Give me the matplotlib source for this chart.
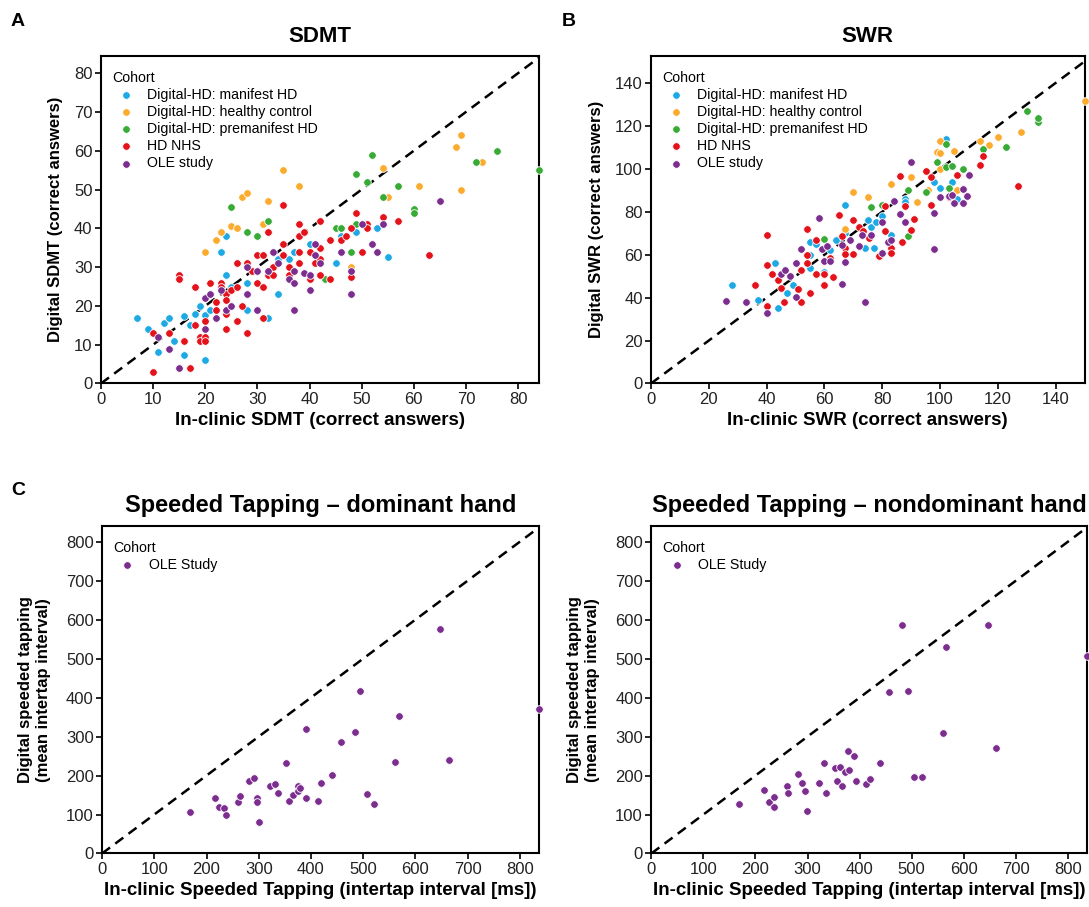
import matplotlib
matplotlib.use('Agg')
import matplotlib.pyplot as plt
import numpy as np

plt.rcParams['font.family'] = ['Liberation Sans', 'DejaVu Sans']

COHORTS = ['Digital-HD: manifest HD', 'Digital-HD: healthy control',
           'Digital-HD: premanifest HD', 'HD NHS', 'OLE study']
COLORS = ['#1ea9e4', '#fbab2d', '#38aa36', '#e3121b', '#7c2e8f']

# --- SDMT (in-clinic, digital) per cohort ---
sdmt_manifest = [(7, 17), (9, 14), (11, 8), (12, 15.5), (13, 17), (14, 11), (16, 17.4), (16, 7.3),
                 (17, 15), (18, 18), (19, 20), (20, 17.6), (20, 6), (21, 19), (23, 34), (24, 38),
                 (24, 28), (25, 25), (28, 26), (28, 19), (32, 17), (34, 23), (34, 32), (36, 32),
                 (37, 34), (40, 36), (45, 31), (46, 38), (49, 39), (53, 40), (55, 32.5)]
sdmt_control = [(20, 34), (22, 37), (23, 39), (25, 40.5), (26, 40), (27, 48), (28, 49), (31, 41),
                (32, 47), (35, 55), (38, 51), (48, 30), (54, 55.5), (55, 48), (61, 51), (68, 61),
                (69, 64), (69, 50), (73, 57)]
sdmt_premanifest = [(25, 45.5), (28, 39), (30, 38), (32, 42), (43, 27), (45, 40), (46, 40),
                    (48, 34), (49, 54), (49, 41), (51, 52), (52, 59), (54, 48), (57, 51),
                    (60, 45), (60, 44), (72, 57), (76, 60), (84, 55)]
sdmt_nhs = [(10, 13), (10, 3), (13, 13), (15, 28), (15, 27), (16, 11), (17, 4), (18, 25), (18, 15),
            (19, 12), (19, 11), (20, 12), (20, 11), (20, 16), (21, 26), (22, 19), (22, 21), (23, 26),
            (23, 25), (24, 23), (24, 21.5), (24, 18), (24, 14), (25, 24), (26, 25), (26, 16), (26, 31),
            (27, 20), (28, 31), (28, 13), (29, 29), (30, 33), (30, 26), (31, 33), (31, 25), (31, 17),
            (32, 39), (32, 28), (33, 28), (33, 30), (35, 46), (35, 36), (35, 33), (36, 30), (36, 28),
            (38, 34), (38, 31), (38, 41), (38, 38), (39, 39), (40, 34), (40, 27), (41, 31), (42, 35),
            (42, 32), (42, 42), (42, 28), (44, 37), (44, 27), (46, 37), (47, 38), (48, 40), (48, 27.5),
            (49, 44), (50, 34), (51, 41), (51, 40), (54, 43), (57, 42), (63, 33)]
sdmt_ole = [(11, 12), (13, 9), (15, 4), (20, 22), (20, 14), (21, 23), (22, 17), (23, 24), (24, 19),
            (25, 20), (28, 23), (28, 30), (30, 29), (30, 19), (32, 29), (33, 34), (34, 31), (36, 27),
            (37, 26), (37, 29), (37, 19), (39, 28.5), (40, 28), (40, 24), (41, 36), (41, 33), (42, 31),
            (46, 34), (48, 29), (48, 23), (50, 41), (52, 36), (53, 34), (54, 41), (65, 47)]

# --- SWR (in-clinic, digital) per cohort ---
swr_manifest = [(28, 46), (37, 39), (43, 56), (44, 35), (47, 42), (49, 46), (55, 66), (55, 60),
                (57, 65), (55, 54), (60, 52), (62, 62), (64, 67), (67, 83), (67, 70), (74, 63),
                (75, 76), (76, 73), (77, 63), (78, 75), (80, 78), (83, 69), (88, 86), (98, 94),
                (100, 91), (102, 114), (104, 94), (106, 86), (88, 84.5)]
swr_control = [(67, 72), (70, 89), (75, 87), (83, 93), (90, 96), (92, 84.5), (96, 90), (99, 108),
               (100, 113), (100, 107.5), (100, 100), (105, 108.5), (106, 90), (114, 113), (117, 111),
               (120, 115), (128, 117), (150, 131.5)]
swr_premanifest = [(60, 67.5), (76, 82), (80, 83), (89, 90), (89, 68.5), (95, 89), (99, 103),
                   (102, 101), (102, 111.5), (103, 91), (104, 101.5), (108, 100), (115, 109),
                   (123, 110), (130, 127), (134, 122), (134, 123.5)]
swr_nhs = [(36, 46), (40, 69), (40, 55), (40, 36), (42, 51), (44, 48), (45, 44.5), (46, 38), (51, 44),
           (52, 53), (52, 38), (54, 72), (54, 60), (54, 56), (55, 42), (57, 51), (57, 67), (60, 51),
           (60, 46), (62, 58.5), (63, 49.5), (65, 78.5), (66, 68.5), (67, 63), (67, 60.5), (70, 76),
           (70, 60.5), (72, 73), (73.5, 71), (75.5, 68), (79, 59.5), (81, 71), (81, 82.5), (83, 63),
           (83, 61), (86, 96.5), (87, 66), (88, 82.5), (90, 71.5), (91, 76.5), (95, 99), (97, 83),
           (97, 96), (103, 87), (106, 97), (114, 102), (115, 106), (127, 92)]
swr_ole = [(26, 38.5), (33, 38), (40, 33), (45, 51), (46.5, 53), (48, 50), (50, 56), (50, 40.5),
           (52, 62.5), (58, 77), (59, 62.5), (60, 57), (61, 64), (62, 57), (66, 64.5), (66, 46.5),
           (67, 56.5), (69, 67), (72, 64), (73, 69), (74, 38), (76, 69), (80, 75), (80, 61), (82, 66),
           (83, 67), (84, 85), (86, 79), (88, 75), (90, 103), (98, 79.5), (98, 62.5), (100, 87),
           (103, 87.5), (104, 88), (105, 84), (108, 90.5), (108, 84), (109.5, 87.5), (110, 97)]

# --- Speeded tapping, OLE study (in-clinic ms, digital ms) ---
tap_dominant = [(169, 106), (216, 142), (223, 119), (233, 116), (237, 100), (261, 131), (265, 147),
                (281, 187), (291, 193), (297, 142), (297, 131), (300, 81), (321, 174), (331, 179),
                (336, 155), (353, 232), (357, 134), (366, 150), (376, 174), (376, 161), (379, 167),
                (390, 320), (391, 142), (413, 134), (420, 181), (441, 202), (457, 285), (484, 311),
                (493, 417), (507, 152), (520, 128), (560, 234), (568, 354), (647, 576), (665, 241),
                (836, 370)]
tap_nondominant = [(168, 128), (216, 164), (225, 133), (235, 145), (235, 119), (260, 173), (262, 154),
                   (282, 204), (289, 182), (296, 160), (298, 110), (321, 182), (332, 232), (335, 154),
                   (352, 219), (356, 186), (363, 223), (366, 173), (372, 208), (377, 262), (380, 214),
                   (390, 251), (393, 186), (413, 177), (420, 191), (439, 232), (456, 414), (482, 586),
                   (493, 418), (504, 196), (519, 196), (560, 308), (566, 529), (646, 586), (662, 270),
                   (836, 507)]

fig = plt.figure(figsize=(10.89, 9.07), dpi=100)
ax_a = fig.add_axes([0.0927, 0.5772, 0.4022, 0.3614])
ax_b = fig.add_axes([0.5978, 0.5772, 0.3981, 0.3614])
ax_c = fig.add_axes([0.0937, 0.0590, 0.4010, 0.3614])
ax_d = fig.add_axes([0.5981, 0.0590, 0.3998, 0.3614])


def style_axes(ax, xlim, ylim, xticks, yticks, title, xlabel, ylabel, title_size, ypad):
    ax.set_xlim(*xlim)
    ax.set_ylim(*ylim)
    ax.set_xticks(xticks)
    ax.set_yticks(yticks)
    for s in ax.spines.values():
        s.set_linewidth(1.5)
    ax.tick_params(direction='out', length=4, width=1.2, labelsize=12, colors='black',
                   labelcolor='#222222', pad=2)
    ax.set_title(title, fontsize=title_size, fontweight='bold', pad=10)
    ax.set_xlabel(xlabel, fontsize=13.5, fontweight='bold', labelpad=4)
    ax.set_ylabel(ylabel, fontsize=12, fontweight='bold', labelpad=ypad)
    ax.plot([0, 10000], [0, 10000], color='black', lw=1.8, ls=(0, (4, 2.6)), zorder=1)


def scatter_groups(ax, groups, labels, colors):
    for pts, lab, col in zip(groups, labels, colors):
        arr = np.array(pts, dtype=float)
        ax.scatter(arr[:, 0], arr[:, 1], s=30, c=col, edgecolors='white', linewidths=0.6,
                   label=lab, zorder=3, clip_on=False)
    leg = ax.legend(title='Cohort', loc='upper left', bbox_to_anchor=(0.0, 0.988),
                    frameon=False, fontsize=10.2, title_fontsize=10.2, alignment='left',
                    handletextpad=0.5, labelspacing=0.22, borderaxespad=0.38, markerscale=1.0)
    return leg


scatter_groups(ax_a, [sdmt_manifest, sdmt_control, sdmt_premanifest, sdmt_nhs, sdmt_ole], COHORTS, COLORS)
style_axes(ax_a, (0, 84), (0, 84.5), range(0, 81, 10), range(0, 81, 10), 'SDMT',
           'In-clinic SDMT (correct answers)', 'Digital SDMT (correct answers)', 16, 8)

scatter_groups(ax_b, [swr_manifest, swr_control, swr_premanifest, swr_nhs, swr_ole], COHORTS, COLORS)
style_axes(ax_b, (0, 150), (0, 152.7), range(0, 141, 20), range(0, 141, 20), 'SWR',
           'In-clinic SWR (correct answers)', 'Digital SWR (correct answers)', 16, 8)

tap_xlabel = 'In-clinic Speeded Tapping (intertap interval [ms])'
tap_ylabel = 'Digital speeded tapping\n(mean intertap interval)'
scatter_groups(ax_c, [tap_dominant], ['OLE Study'], [COLORS[4]])
style_axes(ax_c, (0, 836), (0, 841), range(0, 801, 100), range(0, 801, 100),
           'Speeded Tapping \u2013 dominant hand', tap_xlabel, tap_ylabel, 17, 11)

scatter_groups(ax_d, [tap_nondominant], ['OLE Study'], [COLORS[4]])
style_axes(ax_d, (0, 836), (0, 841), range(0, 801, 100), range(0, 801, 100),
           'Speeded Tapping \u2013 nondominant hand', tap_xlabel, tap_ylabel, 17, 11)

for lab, x, y in [('A', 0.010, 0.976), ('B', 0.516, 0.976), ('C', 0.010, 0.459)]:
    fig.text(x, y, lab, fontsize=14, fontweight='bold', va='center', ha='left')

fig.savefig('out.png', dpi=100)
